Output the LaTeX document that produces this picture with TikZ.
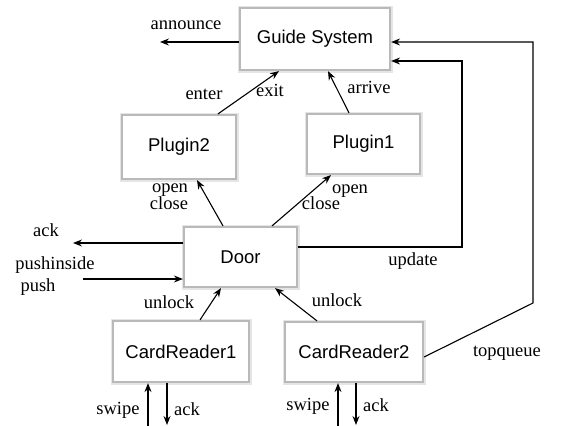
\documentclass[tikz,border=0pt]{standalone}
\usepackage{fontspec}
\setmainfont{Liberation Serif}
\setsansfont{Liberation Sans}
\usetikzlibrary{arrows.meta}
\begin{document}
\begin{tikzpicture}[x=1pt,y=-1pt,
  box/.style={draw=gray!55, line width=2.2pt, fill=white, inner sep=0pt,
    font=\sffamily\fontsize{18.5}{20}\selectfont,
    preaction={draw=gray!20, line width=5pt}},
  lbl/.style={font=\fontsize{18.5}{20}\selectfont, inner sep=0pt, anchor=mid},
  arr/.style={-{Stealth[length=9pt,width=7pt,inset=3pt]}, line width=1.1pt},
  ln/.style={line width=1.1pt}]
\useasboundingbox (0,0) rectangle (563,426);

% boxes
\node[box, minimum width=150pt, minimum height=62pt] (guide) at (315,39) {Guide System};
\node[box, minimum width=114pt, minimum height=64pt] (plugin2) at (179,147) {Plugin2};
\node[box, minimum width=113pt, minimum height=60pt] (plugin1) at (363.5,144) {Plugin1};
\node[box, minimum width=113pt, minimum height=60pt] (door) at (240.5,257) {Door};
\node[box, minimum width=136pt, minimum height=61pt] (cr1) at (181,351.5) {CardReader1};
\node[box, minimum width=138pt, minimum height=60pt] (cr2) at (354,352) {CardReader2};

% free ends
\coordinate (annc) at (160,42);
\coordinate (ackd) at (73,243);
\coordinate (pushs) at (83,279);
\coordinate (u1) at (462,61);
\coordinate (t1) at (533,303);
\coordinate (sw1) at (148,426);
\coordinate (ak1) at (167,425);
\coordinate (sw2) at (338,426);
\coordinate (ak2) at (356,425);

% connectors
\draw[arr] ([yshift=-3pt]guide.west) -- (annc);
\draw[arr] ([xshift=39pt]plugin2.north) -- ([xshift=-36pt]guide.south);
\draw[arr] ([xshift=-14.5pt]plugin1.north) -- ([xshift=13pt]guide.south);
\draw[arr] ([xshift=-17.5pt]door.north) -- ([xshift=18pt]plugin2.south);
\draw[arr] ([xshift=31.5pt]door.north) -- ([xshift=-32.5pt]plugin1.south);
\draw[arr] ([yshift=10pt]door.east) -| (u1) -- ([yshift=-22pt]guide.east);
\draw[arr] ([yshift=-5pt]cr2.east) -- (t1) |- ([yshift=-3pt]guide.east);
\draw[arr] ([yshift=14pt]door.west) -- (ackd);
\draw[arr] (pushs) -- ([yshift=-22pt]door.west);
\draw[arr] ([xshift=19pt]cr1.north) -- ([xshift=-19.5pt]door.south);
\draw[arr] ([xshift=-37pt]cr2.north) -- ([xshift=34.5pt]door.south);
\draw[arr] (sw1) -- ([xshift=-33pt]cr1.south);
\draw[arr] ([xshift=-14pt]cr1.south) -- (ak1);
\draw[arr] (sw2) -- ([xshift=-16pt]cr2.south);
\draw[arr] ([xshift=2pt]cr2.south) -- (ak2);

% labels
\node[lbl] (l1) at (186,27) {announce};
\node[lbl] (l2) at (204,97) {enter};
\node[lbl] (l3) at (270,94) {exit};
\node[lbl] (l4) at (369,91) {arrive};
\node[lbl] (l5) at (170,190) {open};
\node[lbl] (l6) at (169,207) {close};
\node[lbl] (l7) at (350,191) {open};
\node[lbl] (l8) at (321,207) {close};
\node[lbl] (l9) at (46,234) {ack};
\node[lbl] (l10) at (55,267) {pushinside};
\node[lbl] (l11) at (38,289) {push};
\node[lbl] (l12) at (413,263) {update};
\node[lbl] (l13) at (169,306) {unlock};
\node[lbl] (l14) at (337,304) {unlock};
\node[lbl] (l15) at (507,354) {topqueue};
\node[lbl] (l16) at (118,412) {swipe};
\node[lbl] (l17) at (187,413) {ack};
\node[lbl] (l18) at (308,408) {swipe};
\node[lbl] (l19) at (376,409) {ack};
\end{tikzpicture}
\end{document}
